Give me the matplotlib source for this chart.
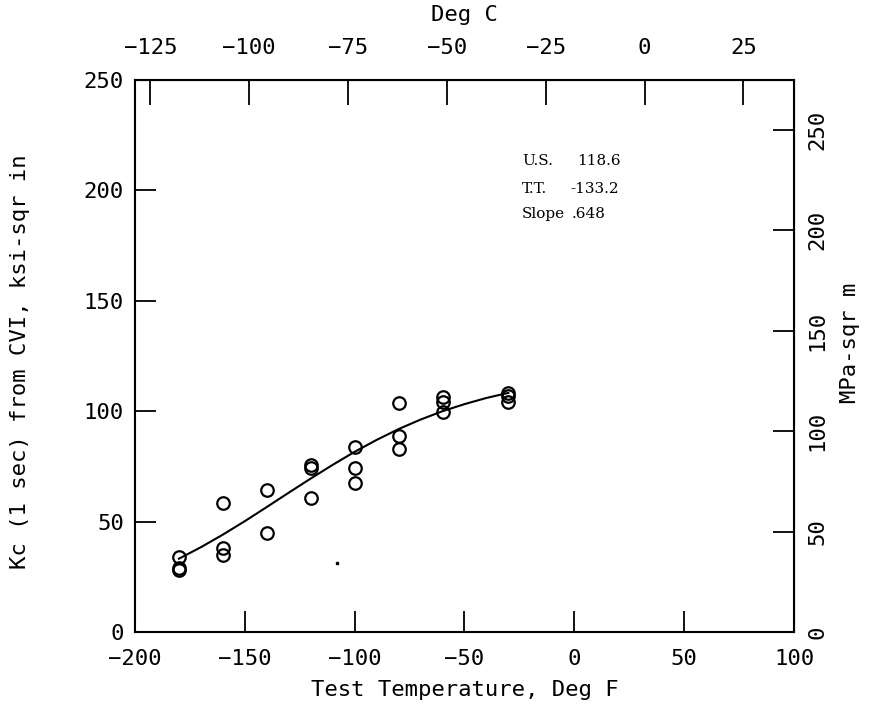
import matplotlib
matplotlib.use("Agg")
import matplotlib.pyplot as plt
import numpy as np

# test temperature (deg F) and Kc (ksi-sqr in)
temp_f = [-180, -180, -180,
          -160, -160, -160,
          -140, -140,
          -120, -120, -120,
          -100, -100, -100,
          -80, -80, -80,
          -60, -60, -60,
          -30, -30, -30]
kc = [34.0, 29.0, 28.0,
      58.5, 38.0, 35.0,
      64.3, 45.0,
      75.6, 74.4, 60.5,
      83.6, 74.4, 67.3,
      103.6, 88.8, 82.7,
      106.5, 104.3, 99.6,
      108.1, 106.9, 104.3]

curve_f = [-180, -170, -160, -150, -140, -130, -120, -110,
           -100, -90, -80, -70, -60, -50, -40, -30]
curve_kc = [33.2, 38.4, 44.1, 50.2, 56.6, 63.1, 69.5, 75.7,
            81.6, 87.0, 91.9, 96.2, 100.0, 103.2, 106.0, 108.3]

# stray speck on the original sheet
speck_f = [-108]
speck_kc = [31.2]

x_ticks = [-200, -150, -100, -50, 0, 50, 100]
y_ticks = [0, 50, 100, 150, 200, 250]
c_ticks = [-125, -100, -75, -50, -25, 0, 25]
mpa_ticks = [0, 50, 100, 150, 200, 250]

notes = [("U.S.", "118.6"), ("T.T.", "-133.2"), ("Slope", ".648")]

KSI_TO_MPA = 1.0988


def f2c(f):
    return (np.asarray(f) - 32.0) * 5.0 / 9.0


def c2f(c):
    return np.asarray(c) * 9.0 / 5.0 + 32.0


def ksi2mpa(k):
    return np.asarray(k) * KSI_TO_MPA


def mpa2ksi(m):
    return np.asarray(m) / KSI_TO_MPA


def plot():
    plt.rcParams['font.family'] = ['DejaVu Sans Mono', 'DejaVu Sans']
    plt.rcParams['font.size'] = 16

    fig = plt.figure(figsize=(8.72, 7.11), dpi=100)
    ax = fig.add_axes([0.1548, 0.1111, 0.7557, 0.7764])

    ax.plot(curve_f, curve_kc, color="black", lw=1.5)
    ax.plot(temp_f, kc, "o", mfc="none", mec="black", ms=9, mew=1.6)
    ax.plot(speck_f, speck_kc, "s", color="black", ms=2)

    ax.set_xlim(-200, 100)
    ax.set_ylim(0, 250)
    ax.set_xticks(x_ticks)
    ax.set_yticks(y_ticks)
    ax.tick_params(direction="in", length=15, width=1.3, color="black")
    ax.tick_params(axis="x", pad=12)
    ax.tick_params(axis="y", pad=8)
    for s in ax.spines.values():
        s.set_linewidth(1.5)

    ax.set_xlabel("Test Temperature, Deg F")
    ax.xaxis.set_label_coords(0.5, -0.105)
    ax.xaxis.label.set_va("center")
    ax.set_ylabel("Kc (1 sec) from CVI, ksi-sqr in")
    ax.yaxis.set_label_coords(-0.1745, 0.49)
    ax.yaxis.label.set_va("center")

    # Deg C on top
    axc = ax.secondary_xaxis("top", functions=(f2c, c2f))
    axc.set_xticks(c_ticks)
    axc.tick_params(direction="in", length=18, width=1.3, pad=16)
    ax.text(0.5, 1.118, "Deg C", transform=ax.transAxes,
            ha="center", va="center")

    # MPa-sqr m on the right
    axm = ax.secondary_yaxis("right", functions=(ksi2mpa, mpa2ksi))
    axm.set_yticks(mpa_ticks)
    axm.tick_params(direction="in", length=15, width=1.3, pad=10)
    for lab in axm.get_yticklabels():
        lab.set_rotation(90)
        lab.set_va("center")
    ax.text(1.085, 0.524, "MPa-sqr m", transform=ax.transAxes,
            rotation=90, ha="center", va="center")

    ys = [213.3, 200.6, 189.3]
    vx = [1.2, -2.0, -1.1]
    for (name, val), yy, xv in zip(notes, ys, vx):
        ax.text(-23.9, yy, name, family="DejaVu Serif", fontsize=11,
                va="center", ha="left")
        ax.text(xv, yy, val, family="DejaVu Serif", fontsize=11,
                va="center", ha="left")

    fig.savefig("out.png", dpi=100)


if __name__ == '__main__':
    plot()
